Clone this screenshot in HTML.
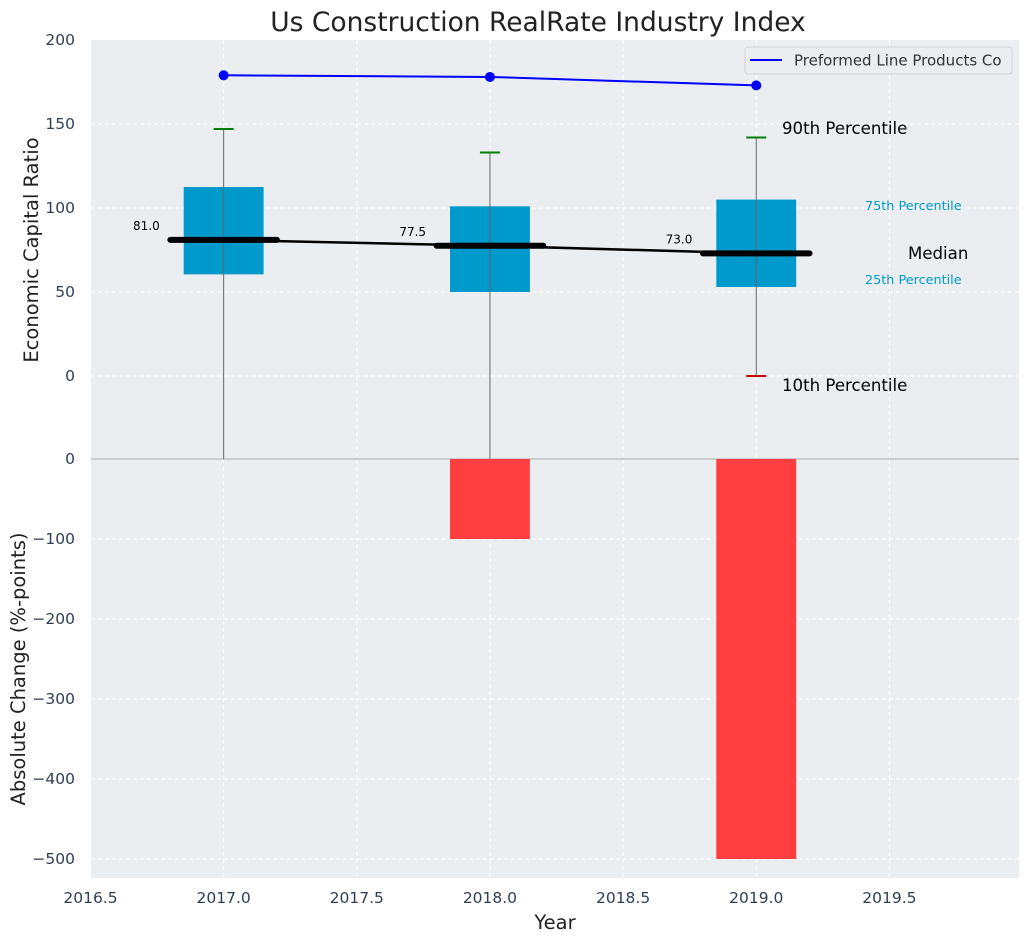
<!DOCTYPE html>
<html><head><meta charset="utf-8"><style>
body{margin:0;background:#fff;}
svg text{font-family:"DejaVu Sans","Liberation Sans",sans-serif;}
</style></head><body>
<svg id="chart" width="1029" height="942" xmlns="http://www.w3.org/2000/svg">
<rect width="1029" height="942" fill="#fff"/>
<text x="538" y="31" font-size="26.5" text-anchor="middle" fill="#222">Us Construction RealRate Industry Index</text>
<rect x="91" y="40" width="928" height="419" fill="#eaeef0"/>
<rect x="91" y="459" width="928" height="419" fill="#eaeef0"/>
<g id="grid"></g>
<g id="marks"></g>
<g id="labels"></g>
<text transform="translate(38,250) rotate(-90)" font-size="19.5" text-anchor="middle" fill="#222">Economic Capital Ratio</text>
<text transform="translate(25,669) rotate(-90)" font-size="19.5" text-anchor="middle" fill="#222">Absolute Change (%-points)</text>
<text x="555" y="929" font-size="19.5" text-anchor="middle" fill="#222">Year</text>
<g>
<rect x="745" y="47" width="267" height="27" rx="3" fill="#eaeef0" stroke="#d0d4d8"/>
<line x1="750" y1="60" x2="782" y2="60" stroke="#0000ff" stroke-width="2"/>
<text x="794" y="65.5" font-size="15" fill="#333">Preformed Line Products Co</text>
</g>
</svg>
<script>
const years=[2017,2018,2019];
const p10=[-60,-60,0];
const p25=[60.5,50,53];
const medians=[81,77.5,73];
const p75=[112.5,101,105];
const p90=[147,133,142];
const company=[179,178,173];
const changes=[0,-100,-500];
const topTicks=[0,50,100,150,200];
const botTicks=[0,-100,-200,-300,-400,-500];
const xTicks=[2016.5,2017,2017.5,2018,2018.5,2019,2019.5];
const NS="http://www.w3.org/2000/svg";
const X=v=>90.5+(v-2016.5)*266.3;
const YT=v=>376-v*1.68;
const YB=v=>459-v*0.8;
function mk(tag,attrs,parent,txt){const e=document.createElementNS(NS,tag);for(const k in attrs)e.setAttribute(k,attrs[k]);if(txt!==undefined)e.textContent=txt;document.getElementById(parent).appendChild(e);return e;}
xTicks.forEach(t=>{
 let g=mk('line',{x1:X(t),x2:X(t),y1:40,y2:878,stroke:'#fff','stroke-dasharray':'4,3'},'grid');
 
 
 let l=mk('text',{x:X(t),y:903,'font-size':15.5,'text-anchor':'middle',fill:'#2e3f55'},'grid',t.toFixed(1));
 
 
});
topTicks.forEach(t=>{
 if(t<200){let g=mk('line',{x1:91,x2:1019,y1:YT(t),y2:YT(t),stroke:'#fff','stroke-dasharray':'4,3'},'grid');
 
 }
 let l=mk('text',{x:75,y:YT(t)+5,'font-size':15.5,'text-anchor':'end',fill:'#2e3f55'},'grid',t);
 
 
});
botTicks.forEach(t=>{
 if(t<0){let g=mk('line',{x1:91,x2:1019,y1:YB(t),y2:YB(t),stroke:'#fff','stroke-dasharray':'4,3'},'grid');
 
 }
 let l=mk('text',{x:75,y:YB(t)+5,'font-size':15.5,'text-anchor':'end',fill:'#2e3f55'},'grid',t<0?'\u2212'+(-t):t);
 
 
});
let sep=mk('line',{x1:91,x2:1019,y1:459,y2:459,stroke:'#aaa','stroke-width':1},'grid');


years.forEach((y,i)=>{
 const v=changes[i];
 let b=mk('rect',{x:X(y-0.15),y:Math.min(YB(0),YB(v)),width:0.3*266.3,height:Math.abs(YB(v)-YB(0)),fill:'#ff3f3f'},'marks');
 
 
});
years.forEach((y,i)=>{
 let b=mk('rect',{x:X(y-0.15),y:YT(p75[i]),width:0.3*266.3,height:YT(p25[i])-YT(p75[i]),fill:'#0099cc'},'marks');
 
 
 const lo=Math.max(p10[i],-49.4);
 let w=mk('line',{x1:X(y),x2:X(y),y1:YT(p90[i]),y2:YT(lo),stroke:'#666','stroke-width':1},'marks');
 
 
 let c=mk('line',{x1:X(y)-10,x2:X(y)+10,y1:YT(p90[i]),y2:YT(p90[i]),stroke:'#008000','stroke-width':2},'marks');
 
 
 if(p10[i]>-49.4){let c2=mk('line',{x1:X(y)-10,x2:X(y)+10,y1:YT(p10[i]),y2:YT(p10[i]),stroke:'#cc0000','stroke-width':2},'marks');
 
 }
});
let mp=mk('polyline',{points:years.map((y,i)=>X(y)+','+YT(medians[i])).join(' '),fill:'none',stroke:'#000','stroke-width':2.5},'marks');


years.forEach((y,i)=>{
 let m=mk('line',{x1:X(y-0.2),x2:X(y+0.2),y1:YT(medians[i]),y2:YT(medians[i]),stroke:'#000','stroke-width':6,'stroke-linecap':'round'},'marks');
 
 
 let t=mk('text',{x:X(y-0.24),y:YT(medians[i])-10,'font-size':12,'text-anchor':'end',fill:'#000'},'labels',medians[i].toFixed(1));
 
 
});
let cl=mk('polyline',{points:years.map((y,i)=>X(y)+','+YT(company[i])).join(' '),fill:'none',stroke:'#0000ff','stroke-width':2},'marks');


years.forEach((y,i)=>{
 let p=mk('circle',{cx:X(y),cy:YT(company[i]),r:5,fill:'#0000ff'},'marks');
 
 
});
const ann=[['90th Percentile',782,134,16.6,'#000','p90-annotation'],['75th Percentile',865,210,12.8,'#0099cc','p75-annotation'],['Median',908,259,16.6,'#000','median-annotation'],['25th Percentile',865,284,12.8,'#0099cc','p25-annotation'],['10th Percentile',782,391,16.6,'#000','p10-annotation']];
ann.forEach(a=>{
 let t=mk('text',{x:a[1],y:a[2],'font-size':a[3],fill:a[4]},'labels',a[0]);
 
 
});
</script>
</body></html>
